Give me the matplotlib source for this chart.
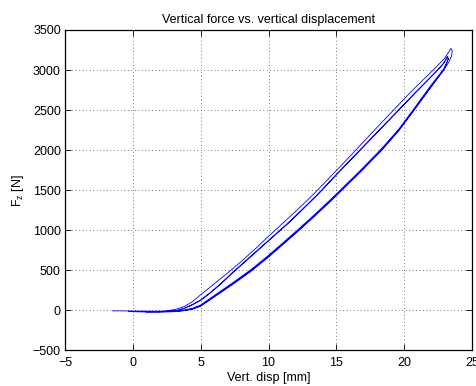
import matplotlib
matplotlib.use("Agg")
from matplotlib import pyplot as plt

plt.rcParams["font.family"] = ["Liberation Sans", "DejaVu Sans"]
plt.rcParams["mathtext.fontset"] = "custom"
plt.rcParams["mathtext.rm"] = "Liberation Sans"
plt.rcParams["mathtext.it"] = "Liberation Sans"

# rest segment before first loading
rest_x = [-1.5, -0.5, 0.5, 1.5, 2.2, 2.7]
rest_y = [-5, -6, -8, -10, -8, 0]

# first loading (outermost branch)
load1_x = [2.7, 3.2, 3.8, 4.4, 5.0, 5.7, 6.46, 6.95, 8.0, 9.0, 10.0, 11.0, 11.58,
           12.8, 13.4, 14.8, 16.15, 17.5, 19.1, 20.6, 22.2, 23.0, 23.45]
load1_y = [0, 15, 50, 110, 196, 290, 396, 462, 612, 765, 925, 1080, 1170,
           1365, 1465, 1710, 1950, 2195, 2480, 2745, 3010, 3150, 3270]

# first unloading
unload1_x = [23.45, 23.55, 23.5, 23.3, 22.9, 22.0, 20.7, 19.6, 18.3, 16.8, 15.35, 14.6,
             13.4, 12.2, 11.58, 10.0, 8.73, 7.5, 6.46, 5.7, 5.0, 4.4, 3.8, 3.0,
             2.0, 1.0, 0.0, -0.3]
unload1_y = [3270, 3240, 3180, 3100, 3000, 2800, 2500, 2250, 2000, 1740, 1500, 1375,
             1185, 1000, 908, 675, 500, 350, 229, 140, 59, 20, 0, -15,
             -18, -18, -15, -12]

# second loading
load2_x = [-0.3, 1.0, 2.0, 2.8, 3.3, 3.8, 4.4, 5.0, 5.7, 6.46, 7.44, 8.5, 9.45,
           10.0, 11.58, 13.1, 13.78, 15.0, 16.34, 17.8, 19.3, 20.8, 22.4, 22.9, 23.2]
load2_y = [-12, -15, -15, -10, 0, 25, 70, 125, 215, 325, 480, 640, 785,
           865, 1105, 1355, 1470, 1690, 1925, 2180, 2445, 2710, 2985, 3080, 3170]

# second unloading
unload2_x = [23.2, 23.25, 23.1, 22.9, 22.0, 20.7, 19.6, 18.3, 16.8, 15.35, 14.6,
             13.4, 12.2, 11.58, 10.0, 8.73, 7.5, 6.46, 5.7, 5.0, 4.4, 3.8, 3.0,
             2.0, 1.0, 0.0, -0.2]
unload2_y = [3170, 3140, 3080, 3010, 2815, 2512, 2262, 2012, 1752, 1512, 1387,
             1197, 1012, 920, 687, 512, 362, 240, 150, 68, 27, 5, -12,
             -16, -17, -15, -12]

# third loading
load3_x = [-0.2, 1.0, 2.0, 2.8, 3.3, 3.8, 4.4, 5.0, 5.7, 6.46, 7.44, 8.5, 9.45,
           10.0, 11.58, 13.1, 13.78, 15.0, 16.34, 17.8, 19.3, 20.8, 22.4, 22.9, 23.2]
load3_y = [-12, -15, -15, -10, 2, 28, 75, 132, 222, 333, 488, 648, 793,
           873, 1113, 1363, 1478, 1698, 1933, 2188, 2452, 2716, 2990, 3084, 3170]

# third unloading
unload3_x = [23.2, 23.25, 23.1, 22.9, 22.0, 20.7, 19.6, 18.3, 16.8, 15.35, 14.6,
             13.4, 12.2, 11.58, 10.0, 8.73, 7.5, 6.46, 5.7, 5.0, 4.4, 3.8, 3.0,
             2.0, 1.0]
unload3_y = [3170, 3135, 3070, 2995, 2790, 2490, 2240, 1990, 1730, 1490, 1365,
             1175, 990, 898, 665, 490, 340, 220, 132, 52, 15, -3, -16,
             -18, -18]

disp = rest_x + load1_x + unload1_x + load2_x + unload2_x + load3_x + unload3_x
force = rest_y + load1_y + unload1_y + load2_y + unload2_y + load3_y + unload3_y

fig = plt.figure(figsize=(4.77, 3.86), dpi=100)
ax = fig.add_axes([0.1363, 0.092, 0.8532, 0.8303])
ax.plot(disp, force, color="#0000ff", linewidth=0.6)

ax.set_xlim(-5, 25)
ax.set_ylim(-500, 3500)
ax.set_xticks([-5, 0, 5, 10, 15, 20, 25])
ax.set_yticks(range(-500, 3501, 500))
ax.grid(True, color="black", linestyle=(0, (1, 4)), linewidth=0.5)
ax.tick_params(direction="in", top=True, right=True, length=4, width=0.6,
               labelsize=9, pad=3)
ax.tick_params(axis="x", pad=5)
for s in ax.spines.values():
    s.set_linewidth(0.9)

ax.set_title("Vertical force vs. vertical displacement", fontsize=9, pad=5)
ax.set_xlabel("Vert. disp [mm]", fontsize=9, labelpad=2)
ax.set_ylabel("F$_z$ [N]", fontsize=9, labelpad=5)

fig.savefig("out.png", dpi=100)
